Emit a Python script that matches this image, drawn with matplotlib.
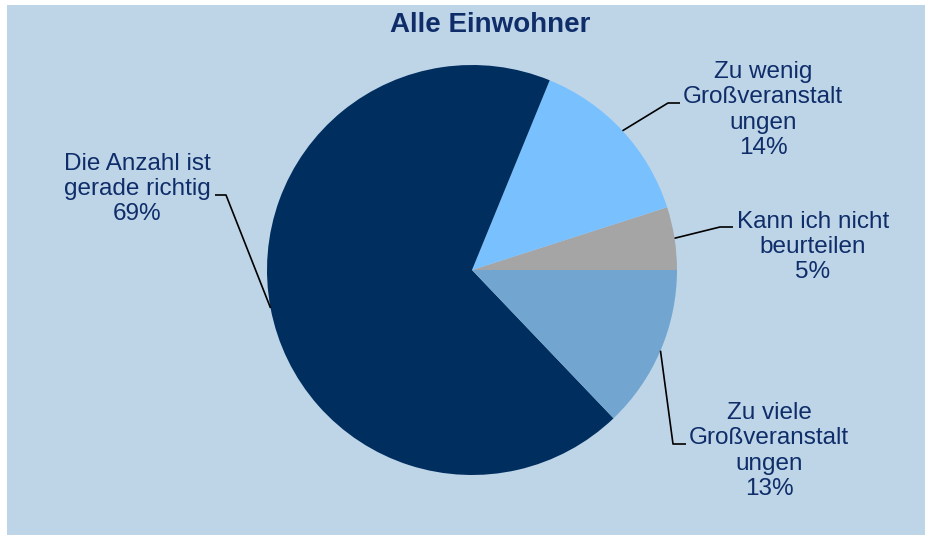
import numpy as np
import matplotlib.pyplot as plt
from matplotlib.patches import Rectangle

plt.rcParams['font.family'] = ['Liberation Sans', 'DejaVu Sans']

# Anteile (%), gegen den Uhrzeigersinn ab 3 Uhr
CATEGORIES = ["Kann ich nicht\nbeurteilen",
              "Zu wenig\nGroßveranstalt\nungen",
              "Die Anzahl ist\ngerade richtig",
              "Zu viele\nGroßveranstalt\nungen"]
SHARES = [5, 14, 69, 13]
COLORS = ['#A5A5A5', '#79C0FF', '#002E5E', '#72A6D1']

TEXT_COLOR = '#0F2D69'
BG = '#BED5E8'

# Layout in Pixeln (y nach oben): Knickpunkt, Ende der Linie, Textmitte
CENTER = (472, 265)
RADIUS = 205
ELBOW = [(720, 308), (668, 432), (226, 340), (673, 91)]
LINE_END = [(733, 308), (680, 432), (215, 340), (686, 91)]
TEXT_POS = [(813, 288), (763, 425), (137, 346), (769, 84)]

fig = plt.figure(figsize=(9.25, 5.35), dpi=100, facecolor='white')
ax = fig.add_axes([0, 0, 1, 1])
ax.set_facecolor('none')
ax.add_patch(Rectangle((7, -5), 925, 535, facecolor=BG, edgecolor='none', zorder=0))

wedges, _ = ax.pie(SHARES, colors=COLORS, startangle=0, counterclock=True,
                   center=CENTER, radius=RADIUS,
                   wedgeprops=dict(linewidth=0, zorder=1))

for i, w in enumerate(wedges):
    mid = np.deg2rad((w.theta1 + w.theta2) / 2)
    x0 = CENTER[0] + RADIUS * np.cos(mid)
    y0 = CENTER[1] + RADIUS * np.sin(mid)
    ax.plot([x0, ELBOW[i][0], LINE_END[i][0]], [y0, ELBOW[i][1], LINE_END[i][1]],
            color='black', linewidth=1.2, solid_capstyle='butt', zorder=2)
    ax.text(TEXT_POS[i][0], TEXT_POS[i][1], f"{CATEGORIES[i]}\n{SHARES[i]}%",
            ha='center', va='center', multialignment='center',
            fontsize=17.5, color=TEXT_COLOR, linespacing=1.2, zorder=3)

ax.text(490, 510, "Alle Einwohner", ha='center', va='center',
        fontsize=20, fontweight='bold', color=TEXT_COLOR, zorder=3)

ax.set_xlim(0, 925)
ax.set_ylim(0, 535)
ax.set_aspect('auto')
ax.axis('off')

fig.savefig('out.png', dpi=100, facecolor=fig.get_facecolor())
